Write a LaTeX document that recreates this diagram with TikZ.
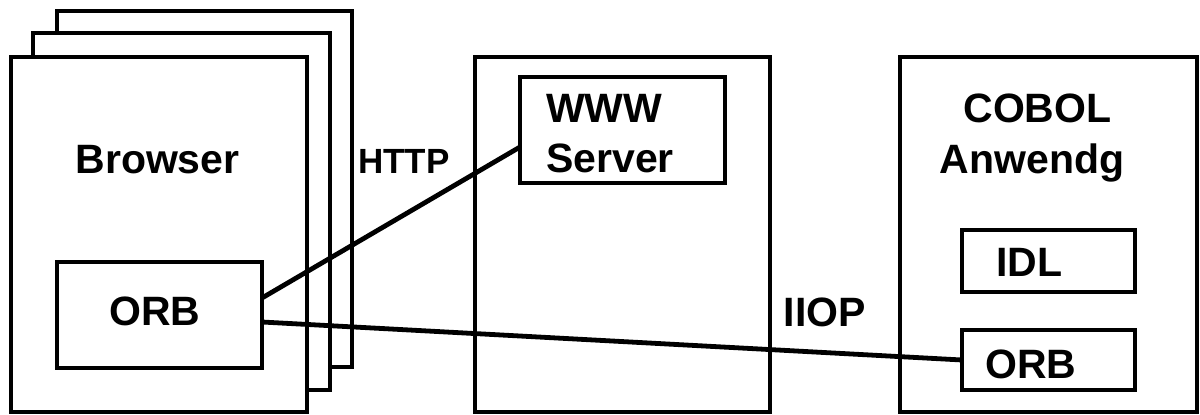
\documentclass[tikz,border=0pt]{standalone}
\usepackage{fontspec}
\setmainfont{Liberation Sans}
\begin{document}
\begin{tikzpicture}[x=1pt,y=-1pt,
  box/.style={draw, line width=4.8pt, fill=white, inner sep=0pt, outer sep=0pt},
  lbl/.style={font=\fontsize{41}{50}\selectfont\bfseries, inner sep=0pt, anchor=base},
  smalllbl/.style={font=\fontsize{35}{42}\selectfont\bfseries, inner sep=0pt, anchor=base},
  conn/.style={line width=4.8pt}]
\useasboundingbox (0,0) rectangle (1200,415);
% browser stack
\node[box, minimum width=295pt, minimum height=356pt] (back) at (204.5,189) {};
\node[box, minimum width=297pt, minimum height=357pt] (middle) at (181.5,211.5) {};
\node[box, minimum width=296pt, minimum height=355pt] (front) at (159,234.5) {};
\node[box, minimum width=205pt, minimum height=106pt] (orb1) at (159.5,315) {};
\node[lbl] (tbrowser) at (157.5,173) {Browser};
\node[lbl] (torb1) at (155,325) {ORB};
% server
\node[box, minimum width=295pt, minimum height=355pt] (server) at (622.5,234.5) {};
\node[box, minimum width=205pt, minimum height=106pt] (www) at (622.5,130) {};
\node[lbl, anchor=base west] (twww) at (546,122) {WWW};
\node[lbl, anchor=base west] (tserver) at (546,172) {Server};
% cobol
\node[box, minimum width=297pt, minimum height=355pt] (cobol) at (1048.5,234.5) {};
\node[box, minimum width=173pt, minimum height=62pt] (idl) at (1048.5,261) {};
\node[box, minimum width=173pt, minimum height=60pt] (orb2) at (1048.5,360) {};
\node[lbl] (tcobol) at (1037.5,122) {COBOL};
\node[lbl] (tanw) at (1032,173) {Anwendg};
\node[lbl] (tidl) at (1029.5,276) {IDL};
\node[lbl] (torb2) at (1031,378) {ORB};
% protocol labels
\node[smalllbl] (thttp) at (404,173) {HTTP};
\node[lbl] (tiiop) at (825,326) {IIOP};
% connectors
\draw[conn] (orb1.east |- 0,298) -- (www.west |- 0,147);
\draw[conn] (orb1.east |- 0,322) -- (orb2.west);
\end{tikzpicture}
\end{document}
